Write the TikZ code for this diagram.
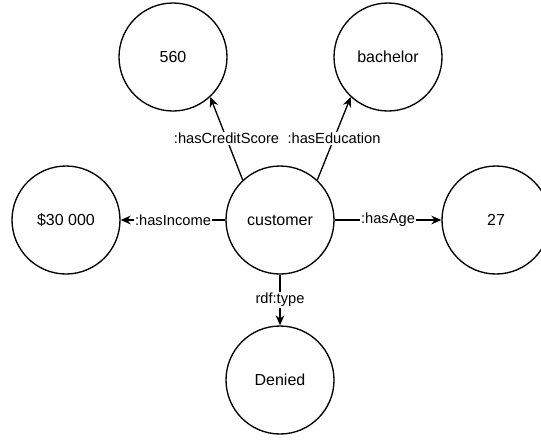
\documentclass[tikz,border=0pt]{standalone}
\usepackage{fontspec}
\setmainfont{Liberation Sans}
\usetikzlibrary{arrows.meta}

\begin{document}
\begin{tikzpicture}[x=0.75pt, y=-0.75pt, line width=1pt, >={Stealth[length=7.5pt, width=6.5pt]}] % 1単位=1px、y軸は下向き
  \tikzset{res/.style={draw, circle, minimum size=81pt, inner sep=0pt, font=\fontsize{12}{14}\selectfont}, % リソースの円
    prop/.style={fill=white, inner sep=1pt, font=\fontsize{11}{13}\selectfont}} % プロパティのラベル
  \useasboundingbox (0,0) rectangle (541,440); % 余白込みの範囲

  \node[res] (cust) at (280,220) {customer}; % 中心
  \node[res] (credit) at (173,57) {560};
  \node[res] (edu) at (388,57) {bachelor};
  \node[res] (income) at (66,220) {\$30 000};
  \node[res] (age) at (496,220) {27};
  \node[res] (denied) at (280,380) {Denied};

  \draw[->] (cust.133) -- (credit.-47) node[prop, midway] {:hasCreditScore}; % 斜めの辺
  \draw[->] (cust.47) -- (edu.-133) node[prop, midway] {:hasEducation};
  \draw[->] (cust) -- (income) node[prop, midway] {:hasIncome}; % 水平の辺
  \draw[->] (cust) -- (age) node[prop, midway] {:hasAge};
  \draw[->] (cust) -- (denied) node[prop, midway] {rdf:type}; % 垂直の辺

\end{tikzpicture}
\end{document}
